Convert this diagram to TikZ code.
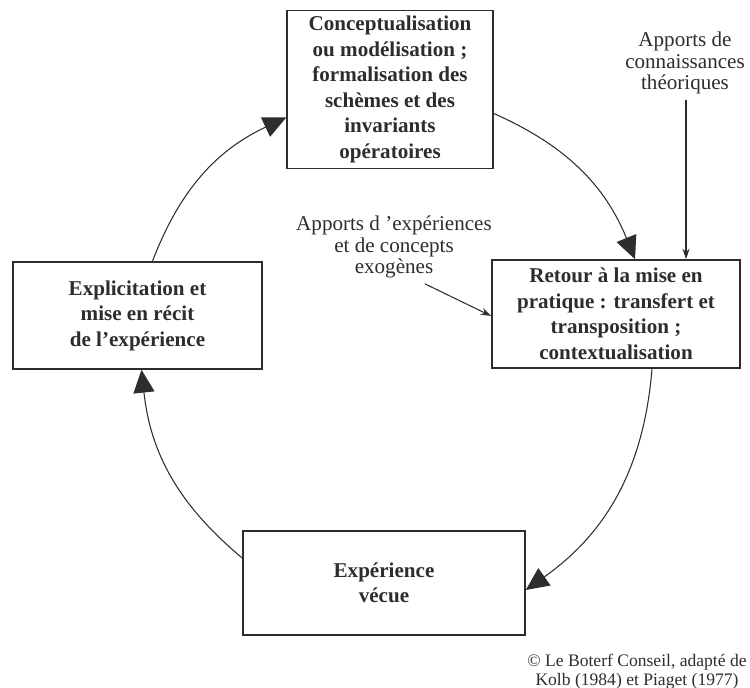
\documentclass[tikz,border=0pt]{standalone}
\usepackage{fontspec}
\setmainfont{Liberation Serif}
\usepackage{tikz}
\usetikzlibrary{arrows.meta, positioning, calc}
\definecolor{cycleink}{RGB}{45, 45, 45}
\tikzstyle{phase} = [draw=cycleink, line width=0.9pt, align=center, font=\fontsize{12}{14.5}\selectfont\bfseries, text=cycleink]
\tikzstyle{cyclearrow} = [line width=0.6pt, cycleink, -{Triangle[length=13pt,width=12pt]}]
\tikzstyle{input} = [align=center, font=\fontsize{12}{12}\selectfont, text=cycleink]
\tikzstyle{inputarrow} = [line width=0.6pt, cycleink, -{Stealth[length=6pt,width=4pt]}]

\begin{document}
\begin{tikzpicture}[x=0.02cm, y=-0.02cm]
\useasboundingbox (0,0) rectangle (750,688);
% the four phases of the cycle
\node[phase, minimum width=206*0.02cm, minimum height=151*0.02cm] (concept) at (390,89.5) {Conceptualisation\\ ou modélisation ;\\ formalisation des\\ schèmes et des\\ invariants\\ opératoires};
\node[phase, minimum width=248*0.02cm, minimum height=108*0.02cm] (retour) at (616,314) {Retour à la mise en\\ pratique : transfert et\\ transposition ;\\ contextualisation};
\node[phase, minimum width=282*0.02cm, minimum height=104*0.02cm] (vecue) at (384,583) {Expérience\\ vécue};
\node[phase, minimum width=249*0.02cm, minimum height=107*0.02cm] (explicit) at (137.5,315.5) {Explicitation et\\ mise en récit\\ de l’expérience};

% arcs between the phases
\draw[cyclearrow] ($(explicit.north)+(15,0)$) to[bend left=22] ($(concept.west)+(0,28)$);
\draw[cyclearrow] ($(concept.east)+(0,24)$) to[bend left=22] ($(retour.north)+(19,0)$);
\draw[cyclearrow] ($(retour.south)+(36,0)$) to[bend left=25] ($(vecue.east)+(0,7)$);
\draw[cyclearrow] ($(vecue.west)+(0,-25)$) to[bend left=22] ($(explicit.south)+(4,0)$);

% outside inputs
\node[input] (theorie) at (685,63) {Apports de\\ connaissances\\ théoriques};
\node[input] (exogene) at (394,247) {Apports d ’expériences\\ et de concepts\\ exogènes};
\draw[inputarrow] (theorie.south -| 686,0) -- (retour.north -| 686,0);
\draw[inputarrow] ($(exogene.south)+(31,0)$) -- ($(retour.west)+(0,2)$);

% source
\node[input, font=\fontsize{10}{10.8}\selectfont] (source) at (637,672) {© Le Boterf Conseil, adapté de\\ Kolb (1984) et Piaget (1977)};
\end{tikzpicture}
\end{document}
